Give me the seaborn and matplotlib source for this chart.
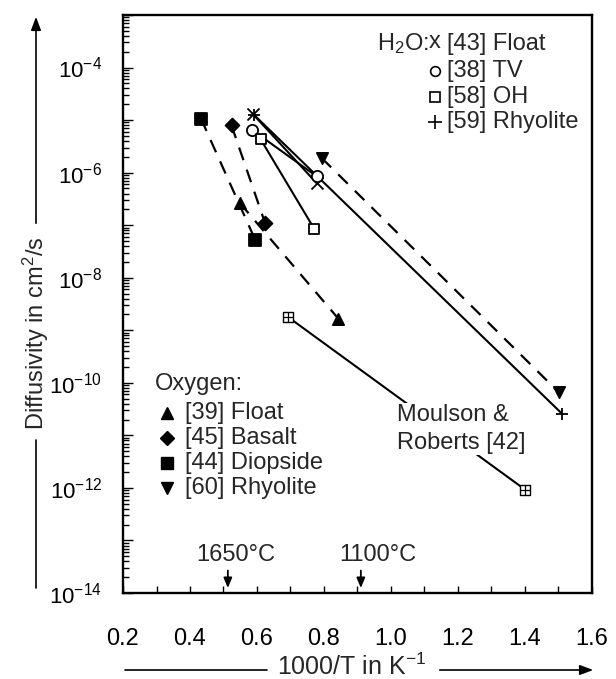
import numpy as np
import pandas as pd
import matplotlib
matplotlib.use("Agg")
import matplotlib.pyplot as plt
import seaborn as sns
from matplotlib.ticker import FixedLocator, FuncFormatter, LogLocator, NullFormatter

# ---------------- data ----------------
# H2O series (solid lines)
h2o_float_x = [0.587, 0.778]
h2o_float_y = [1.32e-5, 6.3e-7]
h2o_tv_x = [0.584, 0.778]
h2o_tv_y = [6.6e-6, 8.5e-7]
h2o_oh_x = [0.611, 0.771]
h2o_oh_y = [4.3e-6, 8.5e-8]
h2o_rhy_x = [0.591, 1.510]
h2o_rhy_y = [1.26e-5, 2.6e-11]
# Oxygen series (dashed lines)
ox_float_x = [0.549, 0.843]
ox_float_y = [2.63e-7, 1.66e-9]
ox_basalt_x = [0.524, 0.624]
ox_basalt_y = [7.9e-6, 1.1e-7]
ox_diop_x = [0.433, 0.595]
ox_diop_y = [1.06e-5, 5.2e-8]
ox_rhy_x = [0.793, 1.501]
ox_rhy_y = [1.9e-6, 6.6e-11]
# Moulson & Roberts
mr_x = [0.693, 1.40]
mr_y = [1.78e-9, 9.3e-13]

x_ticks = [0.2, 0.4, 0.6, 0.8, 1.0, 1.2, 1.4, 1.6]
x_minor = [0.3, 0.5, 0.7, 0.9, 1.1, 1.3, 1.5]
temp_marks_x = [0.513, 0.91]
temp_marks_lbl = ["1650°C", "1100°C"]

h2o_labels = ["[43] Float", "[38] TV", "[58] OH", "[59] Rhyolite"]
ox_labels = ["[39] Float", "[45] Basalt", "[44] Diopside", "[60] Rhyolite"]

# ---------------- style ----------------
sns.set_style("ticks")
plt.rcParams["font.family"] = ["Liberation Sans", "DejaVu Sans"]
plt.rcParams["mathtext.fontset"] = "custom"
plt.rcParams["mathtext.rm"] = "Liberation Sans"
plt.rcParams["mathtext.it"] = "Liberation Sans:italic"
plt.rcParams["mathtext.bf"] = "Liberation Sans:bold"

W, H = 616, 679
fig = plt.figure(figsize=(W / 100, H / 100), dpi=100)
L, R, T, B = 123, 592, 15, 593
ax = fig.add_axes([L / W, 1 - B / H, (R - L) / W, (B - T) / H])
ax.set_yscale("log")

def fx(px):
    return px / W

def fy(py):
    return 1 - py / H

K = "black"
solid_lw = 1.5
dash_lw = 1.6
dash = (0, (6, 4.5))

def draw(xs, ys, ls, lw, markers, msize, filled):
    df = pd.DataFrame({"x": xs, "y": ys})
    sns.lineplot(data=df, x="x", y="y", ax=ax, color=K, linewidth=lw,
                 linestyle=ls, estimator=None, sort=False, legend=False)
    for (xx, yy, mk) in zip(xs, ys, markers):
        fc = K if filled else "white"
        sns.scatterplot(x=[xx], y=[yy], ax=ax, marker=mk, s=msize,
                        facecolor=fc if mk not in ("x", "+") else K,
                        edgecolor=K, linewidth=1.3, zorder=5, legend=False)

# H2O
draw(h2o_float_x, h2o_float_y, "-", solid_lw, ["x", "x"], 75, True)
draw(h2o_tv_x, h2o_tv_y, "-", solid_lw, ["o", "o"], 65, False)
draw(h2o_oh_x, h2o_oh_y, "-", solid_lw, ["s", "s"], 60, False)
draw(h2o_rhy_x, h2o_rhy_y, "-", solid_lw, ["+", "+"], 85, True)
# Oxygen
draw(ox_float_x, ox_float_y, dash, dash_lw, ["^", "^"], 65, True)
draw(ox_basalt_x, ox_basalt_y, dash, dash_lw, ["D", "D"], 50, True)
draw(ox_diop_x, ox_diop_y, dash, dash_lw, ["s", "s"], 65, True)
draw(ox_rhy_x, ox_rhy_y, dash, dash_lw, ["v", "v"], 65, True)
# Moulson & Roberts (line interrupted by the label)
sns.lineplot(x=mr_x, y=mr_y, ax=ax, color=K, linewidth=solid_lw,
             estimator=None, sort=False, legend=False)
sns.scatterplot(x=mr_x, y=mr_y, ax=ax, marker="s", s=45, facecolor="white",
                edgecolor=K, linewidth=1.0, zorder=5, legend=False)
sns.scatterplot(x=mr_x, y=mr_y, ax=ax, marker="+", s=45, color=K,
                linewidth=0.9, zorder=6, legend=False)

# ---------------- axes ----------------
ax.set_xlim(0.2, 1.6)
ax.set_ylim(1e-14, 1e-3)
ax.set_xlabel("")
ax.set_ylabel("")
ax.xaxis.set_major_locator(FixedLocator(x_ticks))
ax.xaxis.set_minor_locator(FixedLocator(x_minor))
ax.xaxis.set_major_formatter(FuncFormatter(lambda v, p: f"{v:.1f}"))
ax.yaxis.set_major_locator(LogLocator(base=10, numticks=30))
ax.yaxis.set_minor_locator(LogLocator(base=10, subs=np.arange(2, 10), numticks=30))
ax.yaxis.set_minor_formatter(NullFormatter())

def yfmt(v, p):
    e = int(round(np.log10(v)))
    if e % 2 == 0 and -14 <= e <= -4:
        return r"10$^{%d}$" % e
    return ""

ax.yaxis.set_major_formatter(FuncFormatter(yfmt))
ax.tick_params(axis="both", which="both", direction="in", top=False, right=False,
               width=1.0, colors=K)
ax.tick_params(axis="y", which="major", length=7, pad=15, labelsize=16)
ax.tick_params(axis="y", which="minor", length=4)
ax.tick_params(axis="x", which="both", length=5, pad=25, labelsize=17)
for s in ax.spines.values():
    s.set_linewidth(1.7)
    s.set_color(K)

# ---------------- annotations ----------------
FS = 17
# H2O legend
fig.text(fx(429), fy(44), "H$_2$O:", fontsize=FS, ha="right", va="center")
fig.text(fx(435), fy(42), "x", fontsize=FS, ha="center", va="center")
leg_y_h = [44, 71, 97, 122]
leg_mk_h = [None, "o", "s", "+"]
for yy, mk, lab in zip(leg_y_h, leg_mk_h, h2o_labels):
    if mk is not None:
        ax.plot([fx(435)], [fy(yy)], marker=mk, ms=7 if mk != "+" else 10,
                mfc="white" if mk in ("o", "s") else K, mec=K, mew=1.2,
                transform=fig.transFigure, clip_on=False, ls="none")
    fig.text(fx(447), fy(yy), lab, fontsize=FS, ha="left", va="center")

# Oxygen legend
fig.text(fx(155), fy(384), "Oxygen:", fontsize=FS, ha="left", va="center")
leg_y_o = [413, 438, 463, 488]
leg_mk_o = ["^", "D", "s", "v"]
for yy, mk, lab in zip(leg_y_o, leg_mk_o, ox_labels):
    ax.plot([fx(167)], [fy(yy)], marker=mk, ms=9 if mk != "D" else 7.5,
            mfc=K, mec=K, transform=fig.transFigure, clip_on=False, ls="none")
    fig.text(fx(185), fy(yy), lab, fontsize=FS, ha="left", va="center")

# Moulson & Roberts label
fig.text(fx(397), fy(429), "Moulson &\nRoberts [42]", fontsize=FS, ha="left",
         va="center", linespacing=1.3,
         bbox=dict(facecolor="white", edgecolor="none", pad=1.0), zorder=10)

# temperature marks
temp_text_px = [236, 378]
for xv, lab, tx in zip(temp_marks_x, temp_marks_lbl, temp_text_px):
    ax.annotate("", xy=(xv, 1.1e-14), xytext=(xv, 10 ** -13.52),
                arrowprops=dict(arrowstyle="-|>,head_length=0.6,head_width=0.25",
                                color=K, lw=1.3))
    fig.text(fx(tx), fy(555), lab, fontsize=FS, ha="center", va="center")

# axis titles with arrows
fig.text(fx(36), fy(333), "Diffusivity in cm$^2$/s", fontsize=FS, rotation=90,
         ha="center", va="center")
fig.add_artist(plt.Line2D([fx(36), fx(36)], [fy(588), fy(440)], color=K, lw=1.2,
                          transform=fig.transFigure))
ax.annotate("", xy=(fx(36), fy(14)), xytext=(fx(36), fy(226)),
            xycoords=fig.transFigure, textcoords=fig.transFigure,
            arrowprops=dict(arrowstyle="-|>,head_length=0.8,head_width=0.3",
                            color=K, lw=1.2), annotation_clip=False)

fig.text(fx(352), fy(667), "1000/T in K$^{-1}$", fontsize=18, ha="center", va="center")
fig.add_artist(plt.Line2D([fx(125), fx(267)], [fy(670), fy(670)], color=K, lw=1.2,
                          transform=fig.transFigure))
ax.annotate("", xy=(fx(596), fy(670)), xytext=(fx(437), fy(670)),
            xycoords=fig.transFigure, textcoords=fig.transFigure,
            arrowprops=dict(arrowstyle="-|>,head_length=0.8,head_width=0.3",
                            color=K, lw=1.2), annotation_clip=False)

fig.savefig("out.png", dpi=100)
